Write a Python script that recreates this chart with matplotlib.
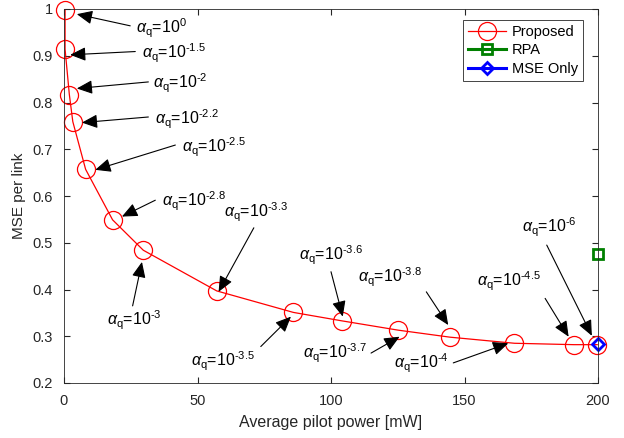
import numpy as np
import matplotlib.pyplot as plt

plt.rcParams['font.family'] = ['Liberation Sans', 'DejaVu Sans']
plt.rcParams['mathtext.fontset'] = 'custom'
plt.rcParams['mathtext.rm'] = 'Liberation Sans'
plt.rcParams['mathtext.it'] = 'Liberation Sans:italic'

# Proposed curve (one point per alpha_q)
power = [0.4, 0.4, 2.0, 3.3, 8.1, 18.2, 29.7, 57.2, 85.9, 104.0, 125.2, 144.6, 168.7, 191.0, 199.7]
mse = [0.998, 0.914, 0.817, 0.759, 0.657, 0.549, 0.484, 0.397, 0.351, 0.333, 0.313, 0.298, 0.285, 0.282, 0.282]
alpha_exp = ['0', '-1.5', '-2', '-2.2', '-2.5', '-2.8', '-3', '-3.3', '-3.5', '-3.6',
             '-3.7', '-3.8', '-4', '-4.5', '-6']

rpa_power, rpa_mse = [200], [0.475]
mse_only_power, mse_only_mse = [200], [0.283]

# annotation layout: (text left x, text y, arrow start x, arrow start y, arrow tip x, arrow tip y)
labels = {
    '0':    (27.1, 0.959, 24.8, 0.964, 4.8, 0.989),
    '-1.5': (29.2, 0.906, 26.7, 0.909, 2.3, 0.902),
    '-2':   (33.5, 0.841, 31.6, 0.844, 4.8, 0.830),
    '-2.2': (34.2, 0.765, 31.6, 0.769, 6.7, 0.757),
    '-2.5': (44.2, 0.705, 41.7, 0.709, 11.7, 0.656),
    '-2.8': (36.7, 0.588, 34.2, 0.591, 21.7, 0.556),
    '-3':   (16.0, 0.335, 25.7, 0.365, 29.2, 0.459),
    '-3.3': (59.8, 0.566, 71.1, 0.532, 57.9, 0.395),
    '-3.5': (47.4, 0.246, 73.7, 0.278, 85.0, 0.342),
    '-3.6': (88.0, 0.474, 100.0, 0.438, 104.4, 0.342),
    '-3.7': (89.4, 0.264, 115.0, 0.264, 125.7, 0.299),
    '-3.8': (110.0, 0.427, 135.7, 0.395, 143.9, 0.324),
    '-4':   (123.7, 0.243, 145.8, 0.243, 166.4, 0.285),
    '-4.5': (154.5, 0.417, 180.2, 0.381, 189.0, 0.299),
    '-6':   (171.4, 0.532, 180.8, 0.495, 197.7, 0.301),
}

fig = plt.figure(figsize=(6.24, 4.38), dpi=100)
ax = fig.add_axes([64 / 624, 55 / 438, 534 / 624, 374 / 438])

ax.plot(power, mse, color='red', linewidth=0.9, marker='o', markersize=13,
        markerfacecolor='none', markeredgecolor='red', markeredgewidth=0.9,
        label='Proposed', clip_on=False)
ax.plot(rpa_power, rpa_mse, color='green', linewidth=2.2, marker='s', markersize=7,
        markerfacecolor='none', markeredgewidth=2, label='RPA', clip_on=False)
ax.plot(mse_only_power, mse_only_mse, color='blue', linewidth=2.2, marker='D', markersize=6,
        markerfacecolor='none', markeredgewidth=2, label='MSE Only', clip_on=False)

for e in alpha_exp:
    tx, ty, sx, sy, px, py = labels[e]
    sup = e.replace('-', '\u2010')
    ax.text(tx, ty, r'$\alpha_{\rm q}$=10$^{' + sup + '}$', fontsize=11.5, ha='left', va='center')
    ax.annotate('', xy=(px, py), xytext=(sx, sy),
                arrowprops=dict(arrowstyle='-|>,head_length=0.95,head_width=0.42',
                                color='black', lw=0.8, shrinkA=0, shrinkB=0))

ax.set_xlim(0, 200)
ax.set_ylim(0.2, 1.0)
ax.set_xticks(np.arange(0, 201, 50))
ax.set_yticks(np.arange(0.2, 1.01, 0.1))
ax.set_yticklabels(['0.2', '0.3', '0.4', '0.5', '0.6', '0.7', '0.8', '0.9', '1'])
ax.tick_params(direction='in', top=True, right=True, labelsize=10.5, colors='#262626',
               length=4, pad=8)
for s in ax.spines.values():
    s.set_color('#262626')
    s.set_linewidth(0.6)
ax.set_xlabel('Average pilot power [mW]', fontsize=11.5, color='#262626', labelpad=5)
ax.set_ylabel('MSE per link', fontsize=11, color='#262626', labelpad=5)

leg = ax.legend(loc='upper right', bbox_to_anchor=(0.972, 0.971), borderaxespad=0,
                fontsize=10.5, handlelength=2.6, fancybox=False, framealpha=1,
                edgecolor='#262626', borderpad=0.35, labelspacing=0.3, handletextpad=0.4)
leg.get_frame().set_linewidth(0.6)

fig.savefig('out.png', dpi=100)
